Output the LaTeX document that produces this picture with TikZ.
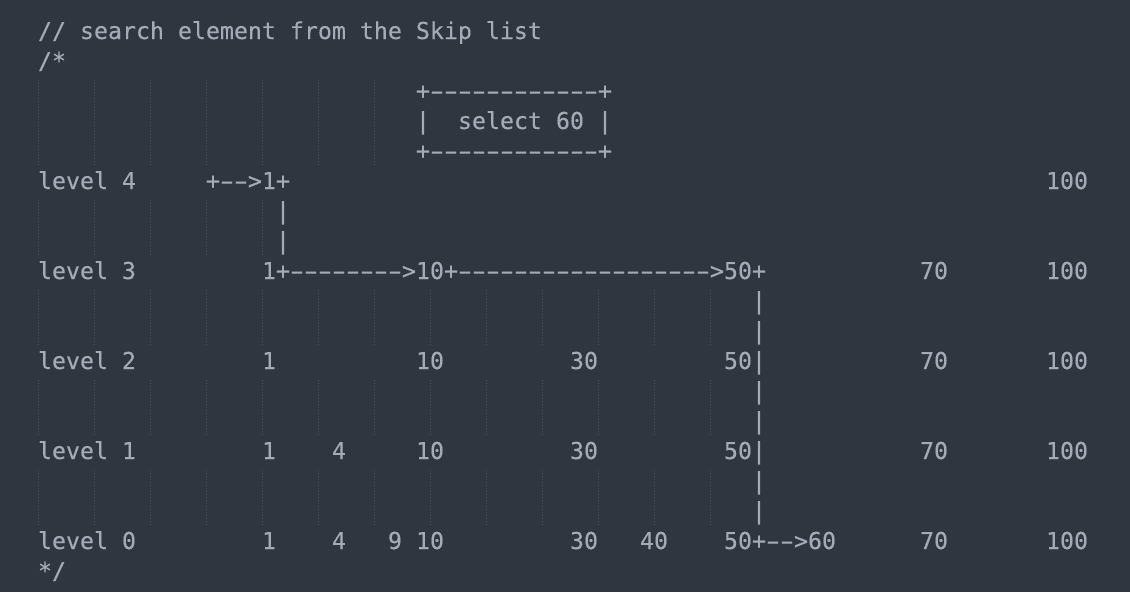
\documentclass[tikz,border=0pt]{standalone}
\usepackage{fontspec}
\usepackage{graphicx}
\setmonofont[FakeBold=0.3]{DejaVu Sans Mono}
\definecolor{bg}{HTML}{303640}
\definecolor{fg}{HTML}{A4ABB7}
\definecolor{guide}{HTML}{4E5561}
\tikzset{
  txt/.style={anchor=base west, inner sep=0pt, outer sep=0pt, text=fg,
    font=\ttfamily\fontsize{23.25}{30}\selectfont},
  guideline/.style={draw=guide, line width=1pt, dash pattern=on 1.3pt off 1.7pt}
}
% a wide hyphen occupying one character cell
\newcommand\hy{\makebox[14pt][c]{\scalebox{1.75}[1]{-}}}
\newcommand\hys[1]{\foreach \i in {1,...,#1}{\hy}}
% \tk{name}{column}{line}{text}
\newcommand\tk[4]{\node[txt] (#1) at ({38+14*#2},{-(39+30*#3)}) {#4};}
% \guides{first line}{number of lines}{last guide index}
\newcommand\guides[3]{%
  \foreach \k in {0,...,#3}{%
    \draw[guideline] ({38.5+56*\k},{-(16+30*#1+4)}) -- ({38.5+56*\k},{-(16+30*#1+30*#2-1)});
  }}
\begin{document}
\begin{tikzpicture}[x=1pt,y=1pt]
\fill[bg] (0,0) rectangle (1130,-592);
\useasboundingbox (0,0) rectangle (1130,-592);
% indentation guides
\guides{2}{3}{6}
\guides{6}{2}{4}
\guides{9}{2}{12}
\guides{12}{2}{12}
\guides{15}{2}{12}
% line 0-1
\tk{c0}{0}{0}{// search element from the Skip list}
\tk{c1}{0}{1}{/*}
% select box
\tk{boxtop}{27}{2}{+\hys{12}+}
\tk{boxl}{27}{3}{|}
\tk{sel}{30}{3}{select 60}
\tk{boxr}{40}{3}{|}
\tk{boxbot}{27}{4}{+\hys{12}+}
% level 4
\tk{lv4}{0}{5}{level 4}
\tk{a4}{12}{5}{+\hys{2}>}
\tk{n4a}{16}{5}{1}
\tk{p4}{17}{5}{+}
\tk{n4h}{72}{5}{100}
\tk{v6}{17}{6}{|}
\tk{v7}{17}{7}{|}
% level 3
\tk{lv3}{0}{8}{level 3}
\tk{n3a}{16}{8}{1}
\tk{a3a}{17}{8}{+\hys{8}>}
\tk{n3j}{27}{8}{10}
\tk{a3b}{29}{8}{+\hys{18}>}
\tk{n3e}{49}{8}{50}
\tk{p3}{51}{8}{+}
\tk{n3g}{63}{8}{70}
\tk{n3h}{72}{8}{100}
\tk{v9}{51}{9}{|}
\tk{v10}{51}{10}{|}
% level 2
\tk{lv2}{0}{11}{level 2}
\tk{n2a}{16}{11}{1}
\tk{n2j}{27}{11}{10}
\tk{n2c}{38}{11}{30}
\tk{n2e}{49}{11}{50}
\tk{v11}{51}{11}{|}
\tk{n2g}{63}{11}{70}
\tk{n2h}{72}{11}{100}
\tk{v12}{51}{12}{|}
\tk{v13}{51}{13}{|}
% level 1
\tk{lv1}{0}{14}{level 1}
\tk{n1a}{16}{14}{1}
\tk{n1b}{21}{14}{4}
\tk{n1j}{27}{14}{10}
\tk{n1c}{38}{14}{30}
\tk{n1e}{49}{14}{50}
\tk{v14}{51}{14}{|}
\tk{n1g}{63}{14}{70}
\tk{n1h}{72}{14}{100}
\tk{v15}{51}{15}{|}
\tk{v16}{51}{16}{|}
% level 0
\tk{lv0}{0}{17}{level 0}
\tk{n0a}{16}{17}{1}
\tk{n0b}{21}{17}{4}
\tk{n0i}{25}{17}{9}
\tk{n0j}{27}{17}{10}
\tk{n0c}{38}{17}{30}
\tk{n0d}{43}{17}{40}
\tk{n0e}{49}{17}{50}
\tk{a0}{51}{17}{+\hys{2}>}
\tk{n0f}{55}{17}{60}
\tk{n0g}{63}{17}{70}
\tk{n0h}{72}{17}{100}
\tk{c18}{0}{18}{*/}
\end{tikzpicture}
\end{document}
